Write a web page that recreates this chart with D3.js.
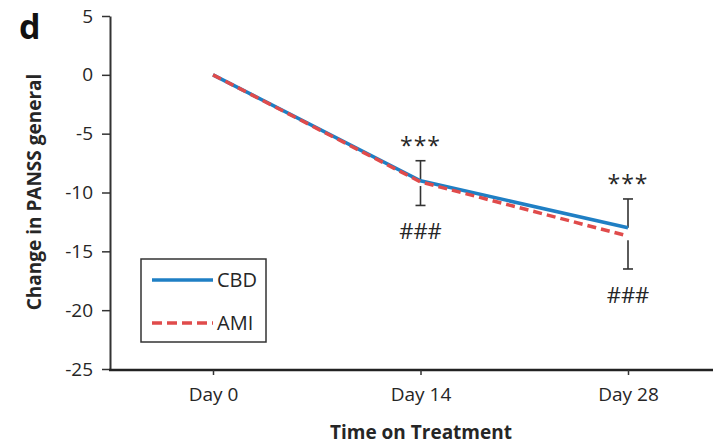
<!DOCTYPE html>
<html>
<head>
<meta charset="utf-8">
<script src="https://cdn.jsdelivr.net/npm/d3@7"></script>
<style>
  body { margin: 0; background: #fff; }
  svg { display: block; font-family: "Open Sans", sans-serif; }
</style>
</head>
<body>
<div id="chart"></div>
<script>
// data
const days = ["Day 0", "Day 14", "Day 28"];
const cbd = [0, -9.0, -13.0];
const ami = [0, -9.1, -13.7];
const cbdErrUp = [null, 1.7, 2.45];    // upper bar drawn from CBD mean
const amiErrDown = [null, 2.0, 2.8];   // lower bar drawn from AMI mean
const starLabels = ["", "***", "***"];
const hashLabels = ["", "###", "###"];
const yTicks = [5, 0, -5, -10, -15, -20, -25];

const W = 713, H = 444;
const axisX = 110, axisY = 370;
const ink = "#262626";

const svg = d3.select("#chart").append("svg")
  .attr("width", W).attr("height", H);

const x = d3.scalePoint().domain(days).range([213, 628]);
const y = d3.scaleLinear().domain([-25, 5]).range([axisY - 1, 16]);

// y axis
const yAxis = svg.append("g")
  .attr("transform", `translate(${axisX},0)`)
  .call(d3.axisLeft(y).tickValues(yTicks).tickFormat(d => String(d))
    .tickSize(8).tickSizeOuter(0).tickPadding(9));
yAxis.select(".domain").attr("stroke", "#333").attr("stroke-width", 2);
yAxis.selectAll(".tick line").attr("stroke", "#333").attr("stroke-width", 1.5);
yAxis.selectAll("text").attr("font-size", 19).attr("fill", ink)
  .attr("font-family", "'Open Sans', sans-serif");

// x axis
svg.append("line")
  .attr("x1", axisX - 1).attr("x2", W).attr("y1", axisY).attr("y2", axisY)
  .attr("stroke", "#222").attr("stroke-width", 2.5);
const xAxis = svg.append("g")
  .attr("transform", `translate(0,${axisY})`)
  .call(d3.axisBottom(x).tickSize(5).tickPadding(13));
xAxis.select(".domain").remove();
xAxis.selectAll(".tick line").attr("stroke", "#333").attr("stroke-width", 1.5);
xAxis.selectAll("text").attr("font-size", 19).attr("fill", ink)
  .attr("font-family", "'Open Sans', sans-serif");

// axis titles
svg.append("text")
  .attr("x", 421).attr("y", 439)
  .attr("text-anchor", "middle")
  .attr("font-size", 19).attr("font-weight", "bold").attr("fill", ink)
  .text("Time on Treatment");

svg.append("text")
  .attr("transform", "translate(41,192) rotate(-90)")
  .attr("text-anchor", "middle")
  .attr("font-size", 19).attr("font-weight", "bold").attr("fill", ink)
  .text("Change in PANSS general");

// panel letter
svg.append("text")
  .attr("x", 19).attr("y", 39)
  .attr("font-size", 34).attr("font-weight", "bold").attr("fill", "#111")
  .text("d");

// error bars
function errBar(i, from, to) {
  const cx = x(days[i]);
  svg.append("line").attr("x1", cx).attr("x2", cx)
    .attr("y1", y(from)).attr("y2", y(to))
    .attr("stroke", "#333").attr("stroke-width", 1.6);
  svg.append("line").attr("x1", cx - 5).attr("x2", cx + 5)
    .attr("y1", y(to)).attr("y2", y(to))
    .attr("stroke", "#333").attr("stroke-width", 1.6);
}
days.forEach((d, i) => {
  if (cbdErrUp[i] != null) errBar(i, cbd[i], cbd[i] + cbdErrUp[i]);
  if (amiErrDown[i] != null) errBar(i, ami[i] - 0.35, ami[i] - amiErrDown[i]);
});

// lines
const line = d3.line().x((d, i) => x(days[i])).y(d => y(d));
svg.append("path").datum(cbd).attr("d", line)
  .attr("fill", "none").attr("stroke", "#1f7fc4").attr("stroke-width", 3.5);
svg.append("path").datum(ami).attr("d", line)
  .attr("fill", "none").attr("stroke", "#e04b4b").attr("stroke-width", 3.5)
  .attr("stroke-dasharray", "9,5");

// significance marks
days.forEach((d, i) => {
  if (!starLabels[i]) return;
  svg.append("text")
    .attr("x", x(d)).attr("y", y(cbd[i] + cbdErrUp[i]) - 7)
    .attr("text-anchor", "middle").attr("font-size", 23).attr("fill", ink)
    .attr("letter-spacing", 1)
    .text(starLabels[i]);
  svg.append("text")
    .attr("x", x(d)).attr("y", y(ami[i] - amiErrDown[i]) + 34)
    .attr("text-anchor", "middle").attr("font-size", 22).attr("fill", ink)
    .text(hashLabels[i]);
});

// legend
const lg = svg.append("g").attr("transform", "translate(141,259)");
lg.append("rect").attr("width", 125).attr("height", 83)
  .attr("fill", "#fff").attr("stroke", "#333").attr("stroke-width", 1.5);
const legendItems = [
  { name: "CBD", color: "#1f7fc4", dash: null },
  { name: "AMI", color: "#e04b4b", dash: "10,5" }
];
legendItems.forEach((it, i) => {
  const ly = 21 + i * 43;
  lg.append("line").attr("x1", 11).attr("x2", 72).attr("y1", ly).attr("y2", ly)
    .attr("stroke", it.color).attr("stroke-width", 3.5)
    .attr("stroke-dasharray", it.dash);
  lg.append("text").attr("x", 76).attr("y", ly + 7)
    .attr("font-size", 20).attr("fill", ink).text(it.name);
});
</script>
</body>
</html>
